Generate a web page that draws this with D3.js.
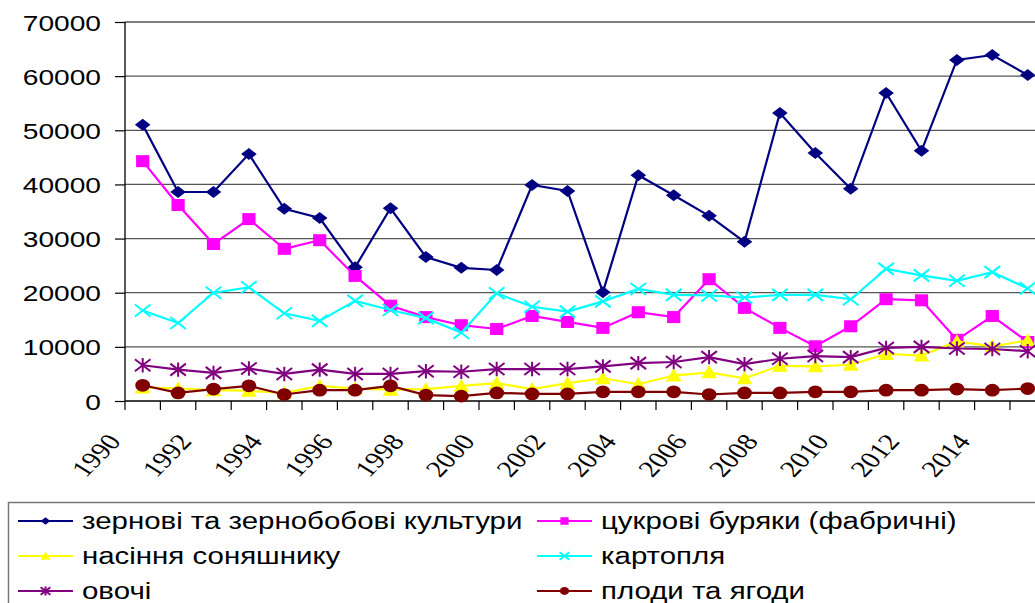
<!DOCTYPE html>
<html>
<head>
<meta charset="utf-8">
<script src="https://cdn.jsdelivr.net/npm/d3@7"></script>
<style>
  body { margin: 0; background: #fff; }
  svg { display: block; }
</style>
</head>
<body>
<svg id="chart" width="1035" height="603"></svg>
<script>
// years on the category axis
const years = d3.range(1990, 2016)
const yTicks = [0, 10000, 20000, 30000, 40000, 50000, 60000, 70000]
const xLabels = [1990, 1992, 1994, 1996, 1998, 2000, 2002, 2004, 2006, 2008, 2010, 2012, 2014]

const grain = [51000, 38600, 38600, 45600, 35500, 33800, 24700, 35600, 26600, 24600, 24200, 39900, 38800, 20100, 41700, 38000, 34200, 29400, 53200, 45800, 39200, 56900, 46200, 63000, 63900, 60200]
const sugar = [44300, 36200, 29000, 33600, 28100, 29700, 23100, 17600, 15500, 14000, 13300, 15700, 14600, 13500, 16400, 15500, 22500, 17200, 13500, 10100, 13800, 18800, 18600, 11300, 15700, 10900]
const sunflower = [2500, 2300, 2000, 1900, 1500, 2800, 2300, 2100, 2200, 2800, 3300, 2200, 3300, 4200, 3100, 4700, 5300, 4200, 6500, 6400, 6700, 8700, 8400, 11000, 10100, 11200]
const potato = [16700, 14400, 20000, 21000, 16200, 14800, 18500, 16800, 15300, 12600, 19900, 17400, 16500, 18400, 20700, 19600, 19500, 19100, 19600, 19600, 18800, 24400, 23200, 22200, 23800, 20800]
const vegetables = [6600, 5800, 5200, 6000, 5000, 5800, 5000, 5000, 5500, 5400, 5900, 5900, 5900, 6400, 7000, 7200, 8100, 6800, 7800, 8300, 8100, 9800, 10000, 9700, 9600, 9200]
const fruit = [2900, 1500, 2200, 2800, 1200, 2000, 2000, 2800, 1100, 900, 1500, 1300, 1300, 1700, 1700, 1700, 1200, 1500, 1500, 1700, 1700, 2000, 2000, 2200, 2000, 2300]

const seriesNames = ['зернові та зернобобові культури', 'цукрові буряки (фабричні)', 'насіння соняшнику', 'картопля', 'овочі', 'плоди та ягоди']
const seriesColors = ['#000080', '#ff00ff', '#ffff00', '#00ffff', '#800080', '#800000']
const seriesMarks = ['diamond', 'square', 'triangle', 'cross', 'star', 'circle']
const seriesValues = [grain, sugar, sunflower, potato, vegetables, fruit]

const series = seriesNames.map((name, i) => ({
  name, color: seriesColors[i], mark: seriesMarks[i], values: seriesValues[i]
}))

const SX = 1.28 // the picture is stretched sideways, so is its text
const plotLeft = 125, plotTop = 22, plotBottom = 401, step = 35.4

const svg = d3.select('#chart')

const x = d3.scaleBand().domain(years).range([plotLeft, plotLeft + years.length * step])
const y = d3.scaleLinear().domain([0, 70000]).range([plotBottom, plotTop])
const cx = d => x(d) + x.bandwidth() / 2

// grid
svg.append('g')
  .selectAll('line')
  .data(yTicks.filter(t => t > 0))
  .join('line')
  .attr('x1', plotLeft).attr('x2', 1035)
  .attr('y1', d => y(d)).attr('y2', d => y(d))
  .attr('stroke', '#555').attr('stroke-width', 1.3)

// y axis
const yAxis = svg.append('g')
  .attr('transform', `translate(${plotLeft},0)`)
  .call(d3.axisLeft(y).tickValues(yTicks).tickSize(10).tickFormat(d3.format('d')))
yAxis.select('.domain').attr('stroke', '#000').attr('stroke-width', 1.3).attr('d', `M0,${plotTop}V${plotBottom}`)
yAxis.selectAll('.tick line').attr('stroke', '#000').attr('stroke-width', 1.2)
yAxis.selectAll('.tick text')
  .attr('x', null).attr('dy', null)
  .attr('transform', 'translate(-24,8) scale(' + SX + ',1)')
  .attr('font-family', '"Liberation Sans", Arial, sans-serif')
  .attr('font-size', 22)
  .attr('fill', '#000')

// x axis: ticks sit between categories
const xg = svg.append('g')
xg.append('line')
  .attr('x1', plotLeft).attr('x2', 1035)
  .attr('y1', plotBottom).attr('y2', plotBottom)
  .attr('stroke', '#000').attr('stroke-width', 1.3)
xg.selectAll('line.tk')
  .data(years)
  .join('line')
  .attr('class', 'tk')
  .attr('x1', d => x(d)).attr('x2', d => x(d))
  .attr('y1', plotBottom).attr('y2', plotBottom + 9)
  .attr('stroke', '#000').attr('stroke-width', 1.2)
xg.selectAll('text')
  .data(xLabels)
  .join('text')
  .attr('transform', d => `translate(${x(d) - 3},${plotBottom + 41}) scale(${SX},1) rotate(-52)`)
  .attr('text-anchor', 'end')
  .attr('font-family', '"Liberation Serif", "Times New Roman", serif')
  .attr('font-size', 23)
  .text(d => d)

// markers
function marker (g, kind, color, s) {
  const w = 6.5 * s, h = 5 * s
  if (kind === 'diamond') {
    g.append('path').attr('d', `M${-w},0L0,${-h}L${w},0L0,${h}Z`).attr('fill', color)
  } else if (kind === 'square') {
    g.append('rect').attr('x', -5.5 * s).attr('y', -5 * s).attr('width', 11 * s).attr('height', 10 * s).attr('fill', color)
  } else if (kind === 'triangle') {
    g.append('path').attr('d', `M0,${-6 * s}L${6.5 * s},${5 * s}L${-6.5 * s},${5 * s}Z`).attr('fill', color)
  } else if (kind === 'circle') {
    g.append('ellipse').attr('rx', 6.2 * s).attr('ry', 5.3 * s).attr('fill', color)
  } else {
    const a = 6.5 * s, b = 5 * s
    g.append('path')
      .attr('d', `M${-a},${-b}L${a},${b}M${-a},${b}L${a},${-b}` + (kind === 'star' ? `M0,${-6 * s}V${6 * s}` : ''))
      .attr('stroke', color).attr('stroke-width', 2).attr('fill', 'none')
  }
}

const line = d3.line().x((d, i) => cx(years[i])).y(d => y(d))

series.forEach(s => {
  const g = svg.append('g')
  g.append('path')
    .attr('d', line(s.values))
    .attr('fill', 'none')
    .attr('stroke', s.color)
    .attr('stroke-width', 2.2)
  s.values.forEach((v, i) => {
    marker(g.append('g').attr('transform', `translate(${cx(years[i])},${y(v)})`), s.mark, s.color, 1.2)
  })
})

// legend
const lg = svg.append('g')
lg.append('rect')
  .attr('x', 8.5).attr('y', 502.5).attr('width', 1040).attr('height', 120)
  .attr('fill', '#fff').attr('stroke', '#777').attr('stroke-width', 1.5)

const colX = [18, 537], rowY = [521, 556, 591]
series.forEach((s, i) => {
  const gx = colX[i % 2], gy = rowY[Math.floor(i / 2)]
  const item = lg.append('g').attr('transform', `translate(${gx},${gy})`)
  item.append('line').attr('x1', 0).attr('x2', 55).attr('stroke', s.color).attr('stroke-width', 2)
  marker(item.append('g').attr('transform', 'translate(27.5,0)'), s.mark, s.color, 0.75)
  item.append('text')
    .attr('transform', `translate(64,8) scale(${SX},1)`)
    .attr('font-family', '"Liberation Sans", Arial, sans-serif')
    .attr('font-size', 23)
    .text(s.name)
})
</script>
</body>
</html>
